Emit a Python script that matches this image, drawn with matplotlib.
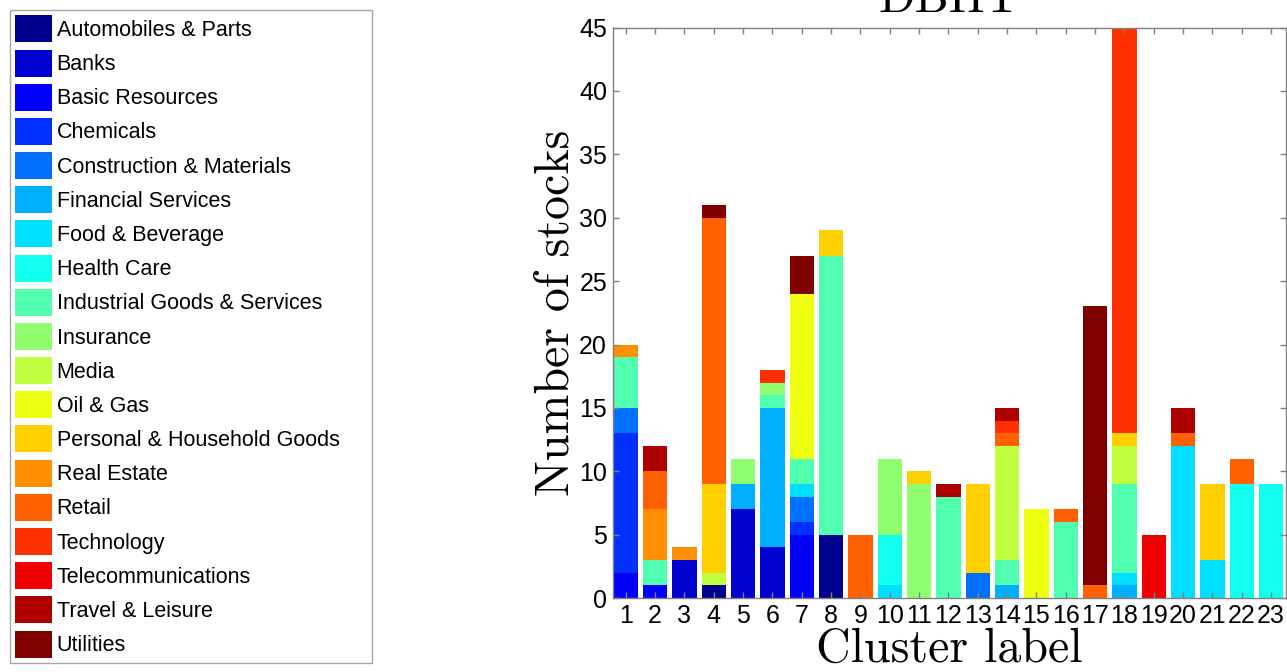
import numpy as np
import matplotlib
matplotlib.use("Agg")
import matplotlib.pyplot as plt
from matplotlib.patches import Patch

# sectors (ICB super-sectors), in colour order
sectors = ["Automobiles & Parts", "Banks", "Basic Resources", "Chemicals",
           "Construction & Materials", "Financial Services", "Food & Beverage",
           "Health Care", "Industrial Goods & Services", "Insurance", "Media",
           "Oil & Gas", "Personal & Household Goods", "Real Estate", "Retail",
           "Technology", "Telecommunications", "Travel & Leisure", "Utilities"]

clusters = list(range(1, 24))

# number of stocks of each sector in clusters 1..23
stocks = [
    [0, 0, 0, 1, 0, 0, 0, 5, 0, 0, 0, 0, 0, 0, 0, 0, 0, 0, 0, 0, 0, 0, 0],
    [0, 0, 3, 0, 7, 4, 0, 0, 0, 0, 0, 0, 0, 0, 0, 0, 0, 0, 0, 0, 0, 0, 0],
    [2, 1, 0, 0, 0, 0, 5, 0, 0, 0, 0, 0, 0, 0, 0, 0, 0, 0, 0, 0, 0, 0, 0],
    [11, 0, 0, 0, 0, 0, 1, 0, 0, 0, 0, 0, 0, 0, 0, 0, 0, 0, 0, 0, 0, 0, 0],
    [2, 0, 0, 0, 0, 0, 2, 0, 0, 0, 0, 0, 2, 0, 0, 0, 0, 0, 0, 0, 0, 0, 0],
    [0, 0, 0, 0, 2, 11, 0, 0, 0, 0, 0, 0, 0, 1, 0, 0, 0, 1, 0, 0, 0, 0, 0],
    [0, 0, 0, 0, 0, 0, 1, 0, 0, 1, 0, 0, 0, 0, 0, 0, 0, 1, 0, 12, 3, 0, 0],
    [0, 0, 0, 0, 0, 0, 0, 0, 0, 4, 0, 0, 0, 0, 0, 0, 0, 0, 0, 0, 0, 9, 9],
    [4, 2, 0, 0, 0, 1, 2, 22, 0, 0, 0, 8, 0, 2, 0, 6, 0, 7, 0, 0, 0, 0, 0],
    [0, 0, 0, 0, 2, 1, 0, 0, 0, 6, 9, 0, 0, 0, 0, 0, 0, 0, 0, 0, 0, 0, 0],
    [0, 0, 0, 1, 0, 0, 0, 0, 0, 0, 0, 0, 0, 9, 0, 0, 0, 3, 0, 0, 0, 0, 0],
    [0, 0, 0, 0, 0, 0, 13, 0, 0, 0, 0, 0, 0, 0, 7, 0, 0, 0, 0, 0, 0, 0, 0],
    [0, 0, 0, 7, 0, 0, 0, 2, 0, 0, 1, 0, 7, 0, 0, 0, 0, 1, 0, 0, 6, 0, 0],
    [1, 4, 1, 0, 0, 0, 0, 0, 0, 0, 0, 0, 0, 0, 0, 0, 0, 0, 0, 0, 0, 0, 0],
    [0, 3, 0, 21, 0, 0, 0, 0, 5, 0, 0, 0, 0, 1, 0, 1, 1, 0, 0, 1, 0, 2, 0],
    [0, 0, 0, 0, 0, 1, 0, 0, 0, 0, 0, 0, 0, 1, 0, 0, 0, 35, 0, 0, 0, 0, 0],
    [0, 0, 0, 0, 0, 0, 0, 0, 0, 0, 0, 0, 0, 0, 0, 0, 0, 0, 5, 0, 0, 0, 0],
    [0, 2, 0, 0, 0, 0, 0, 0, 0, 0, 0, 1, 0, 1, 0, 0, 0, 0, 0, 2, 0, 0, 0],
    [0, 0, 0, 1, 0, 0, 3, 0, 0, 0, 0, 0, 0, 0, 0, 0, 22, 0, 0, 0, 0, 0, 0],
]

# MATLAB-style jet(64) colormap, series mapped linearly onto it
i = np.arange(64)
jet64 = np.column_stack([
    np.interp(i, [0, 23, 39, 55, 63], [0, 0, 1, 1, 0.5]),
    np.interp(i, [0, 7, 23, 39, 55, 63], [0, 0, 1, 1, 0, 0]),
    np.interp(i, [0, 7, 23, 39, 63], [0.5625, 1, 1, 0, 0]),
])
idx = np.round(np.linspace(0, 63, len(sectors))).astype(int)
colors = jet64[idx]

fig = plt.figure(figsize=(12.87, 6.72), dpi=100)
ax = fig.add_axes([0.476, 0.110, 0.523, 0.849])

bottom = np.zeros(len(clusters))
for row, col in zip(stocks, colors):
    row = np.array(row, dtype=float)
    ax.bar(clusters, row, bottom=bottom, width=0.83, color=col, linewidth=0)
    bottom += row

ax.set_xlim(0.55, 23.5)
ax.set_ylim(0, 45)
ax.set_xticks(clusters)
ax.set_yticks(np.arange(0, 46, 5))
for s in ax.spines.values():
    s.set_color("#808080")
    s.set_linewidth(1.0)
ax.tick_params(direction="in", top=True, right=True, length=4, width=1,
               color="#808080", labelsize=18, pad=4)
for lab in ax.get_xticklabels() + ax.get_yticklabels():
    lab.set_family("Liberation Sans")

# LaTeX-looking serif for the labels
serif = "cmr10"
ax.set_xlabel("Cluster label", fontsize=34.5, family=serif, va="baseline")
ax.xaxis.set_label_coords(0.5, -0.112)
ax.set_ylabel("Number of stocks", fontsize=34.5, family=serif, va="baseline")
ax.yaxis.set_label_coords(-0.066, 0.5)
ax.set_title("DBHT", fontsize=34.5, family=serif, y=1.0268, pad=0)

handles = [Patch(facecolor=c, edgecolor="none") for c in colors]
leg = fig.legend(handles, sectors, loc="upper left",
                 bbox_to_anchor=(10 / 1287, 1 - 10 / 672, 362 / 1287, 0),
                 mode="expand", borderaxespad=0, fancybox=False,
                 prop={"family": "Liberation Sans", "size": 15.5},
                 handlelength=1.72, handleheight=1.55, labelspacing=0.335,
                 handletextpad=0.2, borderpad=0.25)
leg.get_frame().set_edgecolor("#909090")
leg.get_frame().set_linewidth(1.0)

fig.savefig("out.png", dpi=100)
